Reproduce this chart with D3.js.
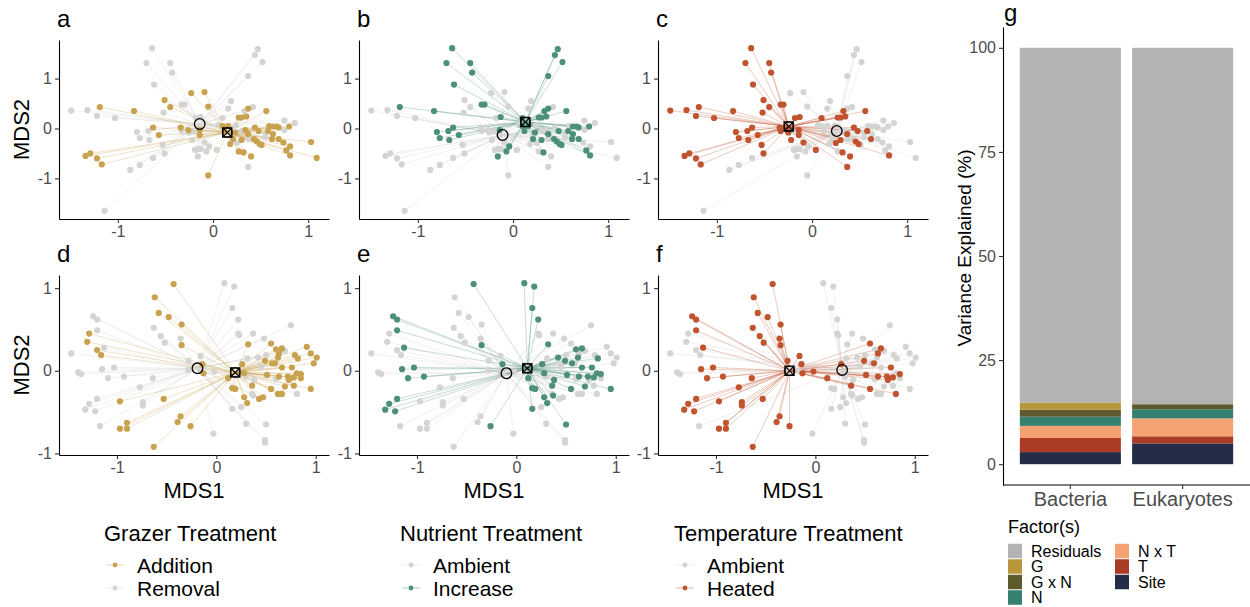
<!DOCTYPE html>
<html>
<head>
<meta charset="utf-8">
<script src="https://cdn.jsdelivr.net/npm/d3@7"></script>
<style>
  body { margin: 0; background: #fff; }
  text { font-family: "Liberation Sans", Arial, Helvetica, sans-serif; }
</style>
</head>
<body>
<svg id="chart" width="1250" height="607"></svg>
<script>
// ---------- NMDS scores: [MDS1, MDS2, grazer(1=addition), nutrient(1=increase), temperature(1=heated)] ----------
const bacteriaPoints = [
  [-0.64,1.61,0,1,1],[-0.70,1.31,0,1,1],[-0.45,1.31,0,1,1],[-0.43,1.12,0,1,1],[-0.62,0.88,0,1,1],
  [0.47,1.59,0,1,0],[0.44,1.47,0,1,0],[0.52,1.33,0,1,0],[0.37,1.05,0,1,0],
  [-1.49,0.36,0,0,1],[-1.32,0.37,0,0,1],[-1.22,0.25,0,0,1],[-1.03,0.21,0,0,1],
  [-0.33,0.48,0,1,1],[-0.30,0.48,0,1,1],[-0.52,0.32,0,0,1],[0.19,0.55,0,0,0],[0.16,0.40,0,0,0],
  [0.42,0.43,0,0,0],[0.33,0.35,0,1,1],[0.10,0.21,0,1,1],[0.75,0.16,0,0,0],[0.86,0.11,0,0,0],
  [-0.80,-0.07,0,1,1],[-0.77,-0.19,0,1,1],[-0.68,-0.05,0,1,1],[-0.67,-0.23,0,1,1],
  [-0.53,-0.33,0,0,1],[-0.51,-0.50,0,0,1],[-0.63,-0.59,0,0,0],[-0.77,-0.73,0,0,0],[-0.87,-0.83,0,0,0],
  [-1.14,-1.65,0,0,0],[-0.19,-0.43,0,0,0],[-0.16,-0.41,0,0,0],[-0.13,-0.41,0,0,0],[-0.22,-0.23,0,0,1],
  [-0.16,-0.56,0,1,0],[-0.07,-0.46,0,1,0],[-0.04,-0.36,0,1,0],[0.04,-0.43,0,0,1],[-0.09,-0.28,0,0,1],
  [0.37,-0.77,0,0,1],[0.37,-0.21,0,0,0],[0.55,-0.09,0,0,0],[0.75,-0.03,0,0,0],[0.55,-0.17,0,0,0],
  [0.25,-0.29,0,0,1],[0.21,-0.13,0,0,0],[0.06,0.07,0,0,0],[-0.25,-0.08,0,0,1],[-0.33,-0.05,0,0,1],
  [0.24,0.06,0,0,0],[-0.20,-0.06,0,0,0],[0.30,-0.05,0,0,0],[-0.18,0.21,0,0,1],[-0.13,0.23,0,1,1],
  [-1.19,0.43,1,1,1],[-0.83,0.35,1,1,1],[-0.51,0.57,1,0,1],[-0.45,0.43,1,0,1],[-0.23,0.71,1,0,0],
  [-0.09,0.73,1,0,0],[-0.05,0.44,1,0,0],[-0.63,0.02,1,1,1],[-0.57,-0.13,1,1,1],[-0.34,0.02,1,0,1],
  [-0.26,-0.03,1,0,1],[-0.14,-0.13,1,0,1],[-0.14,-0.03,1,1,1],[-1.34,-0.55,1,0,1],[-1.29,-0.50,1,0,1],
  [-1.22,-0.60,1,0,1],[-1.17,-0.72,1,0,1],[-0.05,-0.94,1,0,0],[0.10,0.05,1,1,0],[0.16,0.05,1,1,0],
  [0.18,-0.31,1,0,0],[0.27,0.22,1,1,1],[0.30,0.22,1,1,1],[0.35,0.24,1,1,1],[0.37,0.40,1,1,0],
  [0.56,0.35,1,1,1],[0.12,-0.05,1,1,0],[0.27,-0.46,1,0,0],[0.32,-0.48,1,1,1],[0.40,-0.56,1,0,1],
  [0.30,-0.23,1,1,1],[0.37,-0.11,1,1,1],[0.44,0.02,1,0,1],[0.48,-0.05,1,1,1],[0.43,-0.21,1,1,0],
  [0.46,-0.26,1,1,1],[0.49,-0.31,1,1,1],[0.51,-0.33,1,1,0],[0.58,-0.05,1,1,1],[0.63,0.04,1,1,0],
  [0.67,0.04,1,1,0],[0.59,0.05,1,0,0],[0.69,0.02,1,1,0],[0.63,-0.11,1,1,0],[0.62,-0.21,1,1,1],
  [0.69,-0.21,1,1,0],[0.74,-0.28,1,0,0],[0.80,0.04,1,1,0],[0.81,-0.36,1,0,0],[0.77,-0.44,1,1,0],
  [0.81,-0.54,1,1,1],[1.03,-0.27,1,0,0],[1.09,-0.59,1,0,0],[0.34,-0.03,1,0,0],[0.23,-0.08,1,1,0],
  [0.21,-0.21,1,1,0]
];

const eukaryotePoints = [
  [-0.43,1.05,1,1,1],[-0.62,0.89,1,0,1],[-0.58,0.70,1,0,1],[-0.48,0.65,1,0,1],[-0.35,0.56,1,0,1],
  [-0.35,0.31,1,1,1],[-1.28,0.45,1,0,0],[-1.30,0.35,1,0,0],[-1.20,0.25,1,0,0],[-1.16,0.19,1,0,0],
  [-0.14,0.08,1,1,1],[-0.13,-0.03,1,0,1],[-0.97,-0.37,1,0,1],[-0.53,-0.34,1,0,1],[-0.90,-0.63,1,0,1],
  [-0.97,-0.70,1,0,1],[-0.90,-0.70,1,0,1],[-0.36,-0.55,1,0,1],[-0.39,-0.62,1,0,1],[-0.26,-0.67,1,1,1],
  [-0.63,-0.92,1,0,1],[0.12,-0.09,1,1,1],[0.16,-0.21,1,1,0],[0.19,-0.22,1,1,0],[0.26,0.08,1,1,1],
  [0.32,0.32,1,1,0],[0.28,-0.03,1,1,0],[0.28,-0.32,1,1,0],[0.31,-0.39,1,1,0],[0.36,-0.18,1,1,1],
  [0.43,-0.34,1,0,0],[0.47,-0.32,1,0,0],[0.49,0.12,1,1,1],[0.51,-0.05,1,1,1],[0.55,-0.22,1,1,1],
  [0.55,0.33,1,0,1],[0.60,0.26,1,1,0],[0.66,0.27,1,1,1],[0.63,0.21,1,0,1],[0.62,0.16,1,1,0],
  [0.59,0.09,1,0,1],[0.56,0.09,1,1,0],[0.66,0.04,1,1,0],[0.63,-0.07,1,1,1],[0.72,-0.07,1,1,1],
  [0.76,0.04,1,1,1],[0.69,-0.19,1,1,0],[0.62,-0.28,1,0,0],[0.66,-0.28,1,0,0],[0.78,-0.08,1,1,1],
  [0.81,-0.03,1,1,0],[0.85,-0.04,1,1,1],[0.85,-0.09,1,0,0],[0.78,-0.18,1,0,0],[0.73,-0.11,1,0,1],
  [0.79,0.19,1,0,0],[0.82,0.15,1,1,0],[0.91,0.29,1,0,0],[0.95,0.21,1,0,0],[1.01,0.16,1,0,0],
  [0.98,0.09,1,0,0],[0.95,-0.22,1,1,0],
  [0.08,1.06,0,1,0],[0.18,1.02,0,1,0],[0.16,0.76,0,1,0],[0.22,0.62,0,1,0],[0.22,0.45,0,0,0],
  [0.23,0.43,0,0,0],[0.37,0.45,0,0,0],[0.48,0.39,0,0,0],[0.75,0.55,0,0,0],[-1.24,0.66,0,1,1],
  [-1.20,0.62,0,1,1],[-1.20,0.49,0,1,1],[-1.13,0.28,0,1,1],[-1.46,0.21,0,0,0],[-1.39,-0.02,0,0,0],
  [-1.36,-0.04,0,0,0],[-1.15,0.02,0,1,1],[-1.03,0.04,0,1,1],[-1.09,-0.09,0,1,1],[-0.93,-0.07,0,1,1],
  [-0.63,0.52,0,0,1],[-0.56,0.42,0,0,1],[-0.52,0.34,0,0,1],[-0.36,0.39,0,0,1],[-0.64,-0.09,0,0,1],
  [-0.77,-0.20,0,0,1],[-0.74,-0.38,0,0,1],[-0.74,-0.42,0,0,1],[-1.20,-0.34,0,1,1],[-1.28,-0.40,0,1,1],
  [-1.32,-0.47,0,1,1],[-1.22,-0.49,0,1,1],[-1.17,-0.67,0,0,0],[-0.16,0.18,0,0,1],[-0.28,0.12,0,0,1],
  [-0.28,0.01,0,0,0],[-0.17,0.00,0,0,0],[-0.02,-0.01,0,0,1],[-0.03,-0.76,0,0,0],[0.16,-0.46,0,1,0],
  [0.25,-0.44,0,0,0],[0.30,-0.64,0,0,0],[0.50,-0.65,0,1,0],[0.49,-0.84,0,0,0],[0.49,-0.87,0,0,0],
  [0.36,-0.28,0,0,0],[0.31,0.15,0,0,0],[0.42,0.16,0,1,0],[0.50,0.19,0,0,0],[0.69,0.24,0,0,0],
  [0.30,-0.07,0,0,0],[0.38,-0.11,0,1,0],[0.81,-0.28,0,0,1],[0.45,0.05,0,0,0],[0.60,-0.10,0,0,0],
  [0.37,-0.30,0,1,0]
];

// Group centroids: [untreated group, treated group]
const bacteriaGrazerCentroids      = [[-0.14, 0.09], [0.15, -0.08]];
const bacteriaNutrientCentroids    = [[-0.11, -0.13], [0.13, 0.13]];
const bacteriaTemperatureCentroids = [[0.26, -0.05], [-0.245, 0.04]];
const eukaryoteGrazerCentroids      = [[-0.19, 0.03], [0.19, -0.02]];
const eukaryoteNutrientCentroids    = [[-0.10, -0.03], [0.11, 0.03]];
const eukaryoteTemperatureCentroids = [[0.27, 0.01], [-0.26, 0.00]];

const xTicks = [-1, 0, 1];
const yTicks = [-1, 0, 1];

// Variance partitioning (%)
const communities = ["Bacteria", "Eukaryotes"];
const factors = ["Residuals", "G", "G x N", "N", "N x T", "T", "Site"];
const bacteriaVariance  = [85.2, 1.7, 1.7, 2.2, 2.9, 3.4, 2.9];
const eukaryoteVariance = [85.6, 0.0, 1.2, 2.2, 4.3, 1.7, 5.0];
const varianceTicks = [0, 25, 50, 75, 100];

// Legend labels
const grazerLevels = ["Addition", "Removal"];
const nutrientLevels = ["Ambient", "Increase"];
const temperatureLevels = ["Ambient", "Heated"];

// ---------- styles ----------
const GOLD = "#C9A24F", GREEN = "#4D9079", RUST = "#C1532E";
const PT_GRAY = "#D4D4D2", LINE_GRAY = "#D8D8D6";
const factorColors = {
  "Residuals": "#B3B3B3", "G": "#B8963C", "G x N": "#5E5A2D", "N": "#35806F",
  "N x T": "#F4A271", "T": "#AB3B24", "Site": "#252C47"
};
const TICK_TXT = "#4D4D4D";

const svg = d3.select("#chart");

function drawScatter(p) {
  const pts = p.points;
  const ex = d3.extent(pts, d => d[0]), ey = d3.extent(pts, d => d[1]);
  const px = (ex[1] - ex[0]) * 0.05, py = (ey[1] - ey[0]) * 0.05;
  const x = d3.scaleLinear().domain([ex[0] - px, ex[1] + px]).range([p.left, p.right]);
  const y = d3.scaleLinear().domain([ey[0] - py, ey[1] + py]).range([p.bottom, p.top]);
  const k = p.factor;
  const g = svg.append("g");

  // spider segments, untreated first
  [0, 1].forEach(grp => {
    const c = p.centroids[grp];
    g.append("g").selectAll("line")
      .data(pts.filter(d => d[k] === grp)).join("line")
      .attr("x1", d => x(d[0])).attr("y1", d => y(d[1]))
      .attr("x2", x(c[0])).attr("y2", y(c[1]))
      .attr("stroke", grp ? p.color : LINE_GRAY)
      .attr("stroke-opacity", grp ? 0.3 : 0.35)
      .attr("stroke-width", 1);
  });

  // points
  [0, 1].forEach(grp => {
    g.append("g").selectAll("circle")
      .data(pts.filter(d => d[k] === grp)).join("circle")
      .attr("cx", d => x(d[0])).attr("cy", d => y(d[1]))
      .attr("r", 3.1)
      .attr("fill", grp ? p.color : PT_GRAY);
  });

  // centroids
  const c0 = p.centroids[0], c1 = p.centroids[1];
  g.append("circle").attr("cx", x(c0[0])).attr("cy", y(c0[1])).attr("r", 5.3)
    .attr("fill", "none").attr("stroke", "#000").attr("stroke-width", 1.3);
  const cx = x(c1[0]), cy = y(c1[1]), h = 4.6;
  const m = g.append("g").attr("stroke", "#000").attr("stroke-width", 1.2).attr("fill", "none");
  m.append("rect").attr("x", cx - h).attr("y", cy - h).attr("width", 2 * h).attr("height", 2 * h);
  m.append("circle").attr("cx", cx).attr("cy", cy).attr("r", h);
  m.append("line").attr("x1", cx - h).attr("y1", cy - h).attr("x2", cx + h).attr("y2", cy + h);
  m.append("line").attr("x1", cx - h).attr("y1", cy + h).attr("x2", cx + h).attr("y2", cy - h);

  // axes
  const ax = g.append("g").attr("transform", `translate(0,${p.bottom})`)
    .call(d3.axisBottom(x).tickValues(xTicks).tickSize(4).tickSizeOuter(0).tickPadding(3).tickFormat(d => String(d)));
  const ay = g.append("g").attr("transform", `translate(${p.left},0)`)
    .call(d3.axisLeft(y).tickValues(yTicks).tickSize(4).tickSizeOuter(0).tickPadding(3).tickFormat(d => String(d)));
  [ax, ay].forEach(a => {
    a.select(".domain").attr("stroke", "#000").attr("stroke-width", 1.1);
    a.selectAll(".tick line").attr("stroke", "#333").attr("stroke-width", 1.1);
    a.selectAll(".tick text").attr("fill", TICK_TXT).style("font-size", "16px");
  });

  // panel tag
  svg.append("text").attr("x", p.left - 2).attr("y", p.top - 13)
    .style("font-size", "24px").attr("fill", "#000").text(p.tag);

  if (p.yTitle) {
    svg.append("text").attr("transform", `translate(29,${(p.top + p.bottom) / 2}) rotate(-90)`)
      .attr("text-anchor", "middle").style("font-size", "22px").text("MDS2");
  }
  if (p.xTitle) {
    svg.append("text").attr("x", (p.left + p.right) / 2).attr("y", p.bottom + 43)
      .attr("text-anchor", "middle").style("font-size", "22px").text("MDS1");
  }
}

const cols = [[59, 329], [359, 629], [658, 928]];
const topRow = { top: 40, bottom: 219 }, botRow = { top: 275, bottom: 455 };

const panels = [
  { tag: "a", points: bacteriaPoints, factor: 2, centroids: bacteriaGrazerCentroids, color: GOLD, col: 0, row: topRow, yTitle: true },
  { tag: "b", points: bacteriaPoints, factor: 3, centroids: bacteriaNutrientCentroids, color: GREEN, col: 1, row: topRow },
  { tag: "c", points: bacteriaPoints, factor: 4, centroids: bacteriaTemperatureCentroids, color: RUST, col: 2, row: topRow },
  { tag: "d", points: eukaryotePoints, factor: 2, centroids: eukaryoteGrazerCentroids, color: GOLD, col: 0, row: botRow, yTitle: true, xTitle: true },
  { tag: "e", points: eukaryotePoints, factor: 3, centroids: eukaryoteNutrientCentroids, color: GREEN, col: 1, row: botRow, xTitle: true },
  { tag: "f", points: eukaryotePoints, factor: 4, centroids: eukaryoteTemperatureCentroids, color: RUST, col: 2, row: botRow, xTitle: true }
];
panels.forEach(p => drawScatter(Object.assign({}, p, {
  left: cols[p.col][0], right: cols[p.col][1], top: p.row.top, bottom: p.row.bottom
})));

// ---------- treatment legends ----------
const legends = [
  { title: "Grazer Treatment", x: 104, items: grazerLevels, colors: [GOLD, PT_GRAY] },
  { title: "Nutrient Treatment", x: 400, items: nutrientLevels, colors: [PT_GRAY, GREEN] },
  { title: "Temperature Treatment", x: 674, items: temperatureLevels, colors: [PT_GRAY, RUST] }
];
legends.forEach(L => {
  const lg = svg.append("g");
  lg.append("text").attr("x", L.x).attr("y", 541).style("font-size", "22px").text(L.title);
  L.items.forEach((lab, i) => {
    const cy = 565 + i * 23;
    lg.append("line").attr("x1", L.x + 2).attr("x2", L.x + 20).attr("y1", cy).attr("y2", cy)
      .attr("stroke", L.colors[i]).attr("stroke-opacity", 0.45).attr("stroke-width", 1);
    lg.append("circle").attr("cx", L.x + 11).attr("cy", cy).attr("r", 2.4).attr("fill", L.colors[i]);
    lg.append("text").attr("x", L.x + 33).attr("y", cy + 7.5).style("font-size", "21px").text(lab);
  });
});

// ---------- panel g: stacked variance bars ----------
const gLeft = 1003, gRight = 1250, gTop = 27, gBottom = 485;
const xb = d3.scaleBand().domain(communities).range([gLeft, gRight]).paddingInner(0.1).paddingOuter(0.15);
const yb = d3.scaleLinear().domain([-5, 105]).range([gBottom, gTop]);
const rows = communities.map((c, i) => {
  const vals = i === 0 ? bacteriaVariance : eukaryoteVariance;
  const o = { community: c };
  factors.forEach((f, j) => o[f] = vals[j]);
  return o;
});
const stackKeys = factors.slice().reverse(); // Site at the base, Residuals on top
const series = d3.stack().keys(stackKeys)(rows);
const gg = svg.append("g");
series.forEach(s => {
  gg.append("g").attr("fill", factorColors[s.key]).selectAll("rect")
    .data(s.filter(d => d[1] > d[0])).join("rect")
    .attr("x", d => xb(d.data.community)).attr("width", xb.bandwidth())
    .attr("y", d => yb(d[1])).attr("height", d => yb(d[0]) - yb(d[1]));
});
const gx = gg.append("g").attr("transform", `translate(0,${gBottom})`)
  .call(d3.axisBottom(xb).tickSize(4).tickSizeOuter(0).tickPadding(3));
const gy = gg.append("g").attr("transform", `translate(${gLeft},0)`)
  .call(d3.axisLeft(yb).tickValues(varianceTicks).tickSize(4).tickSizeOuter(0).tickPadding(3));
[gx, gy].forEach(a => {
  a.select(".domain").attr("stroke", "#000").attr("stroke-width", 1.1);
  a.selectAll(".tick line").attr("stroke", "#333").attr("stroke-width", 1.1);
  a.selectAll(".tick text").attr("fill", TICK_TXT);
});
gy.selectAll(".tick text").style("font-size", "16px");
gx.selectAll(".tick text").style("font-size", "20px");
gx.select(".domain").attr("d", `M${gLeft},0H${gRight}`);

svg.append("text").attr("x", gLeft + 1).attr("y", 21).style("font-size", "24px").text("g");
svg.append("text").attr("transform", `translate(971,${(gTop + gBottom) / 2 - 8}) rotate(-90)`)
  .attr("text-anchor", "middle").style("font-size", "19px").text("Variance Explained (%)");

// factor legend
const fl = svg.append("g");
fl.append("text").attr("x", 1008).attr("y", 533).style("font-size", "18px").text("Factor(s)");
factors.forEach((f, i) => {
  const col = i < 4 ? 0 : 1, row = i < 4 ? i : i - 4;
  const kx = col ? 1115 : 1008, cy = 551 + row * 15.5;
  fl.append("rect").attr("x", kx).attr("y", cy - 7.25).attr("width", 14).attr("height", 14.5)
    .attr("fill", factorColors[f]);
  fl.append("text").attr("x", kx + 23).attr("y", cy + 5.5).style("font-size", "16px").text(f);
});
</script>
</body>
</html>
